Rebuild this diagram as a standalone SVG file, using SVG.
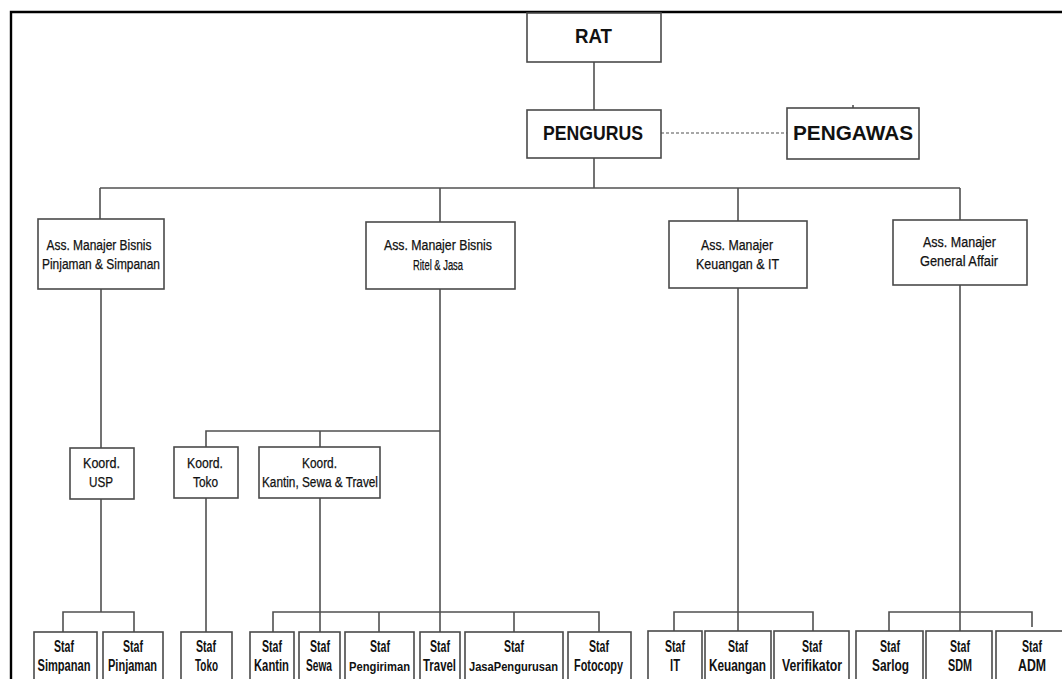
<svg xmlns="http://www.w3.org/2000/svg" width="1062" height="679" viewBox="0 0 1062 679">
<style>
.box{fill:#fff;stroke:#4a4a4a;stroke-width:1.6}
.ln{fill:none;stroke:#505050;stroke-width:1.6}
.dash{fill:none;stroke:#505050;stroke-width:1.2;stroke-dasharray:3 2}
.frame{fill:none;stroke:#000;stroke-width:2.4}
text{font-family:"Liberation Sans",Arial,sans-serif;fill:#111}
.t1{font-size:21px;font-weight:bold}
.t2{font-size:14px;stroke:#111;stroke-width:0.25}
.t3{font-size:16px;font-weight:bold}
.t3s{font-size:13px;font-weight:bold}
</style>
<rect width="1062" height="679" fill="#fff"/>
<path class="frame" d="M11,679 V12 H1062"/>
<g id="connectors">
<line class="ln" x1="594" y1="62" x2="594" y2="110"/>
<line class="dash" x1="661" y1="133" x2="787" y2="133"/>
<line class="ln" x1="853" y1="105" x2="853" y2="108"/>
<line class="ln" x1="594" y1="158" x2="594" y2="188"/>
<line class="ln" x1="100" y1="188" x2="960" y2="188"/>
<line class="ln" x1="100" y1="188" x2="100" y2="219"/>
<line class="ln" x1="440" y1="188" x2="440" y2="222"/>
<line class="ln" x1="738" y1="188" x2="738" y2="221"/>
<line class="ln" x1="960" y1="188" x2="960" y2="220"/>
<line class="ln" x1="101" y1="289" x2="101" y2="448"/>
<line class="ln" x1="101" y1="499" x2="101" y2="612"/>
<path class="ln" d="M63,632 V612 H134 V632"/>
<line class="ln" x1="440" y1="289" x2="440" y2="632"/>
<path class="ln" d="M206,447 V431 H440"/>
<line class="ln" x1="320" y1="431" x2="320" y2="447"/>
<line class="ln" x1="206" y1="498" x2="206" y2="632"/>
<line class="ln" x1="320" y1="498" x2="320" y2="632"/>
<path class="ln" d="M273,632 V612 H599 V632"/>
<line class="ln" x1="379" y1="612" x2="379" y2="632"/>
<line class="ln" x1="514" y1="612" x2="514" y2="632"/>
<line class="ln" x1="738" y1="288" x2="738" y2="631"/>
<path class="ln" d="M674,631 V612 H813 V631"/>
<line class="ln" x1="960" y1="285" x2="960" y2="631"/>
<path class="ln" d="M889,631 V612 H1032 V627"/>
</g>
<g id="rat"><rect class="box" x="527" y="13" width="134" height="49"/><text class="t1" x="575" y="43" textLength="37" lengthAdjust="spacingAndGlyphs">RAT</text></g>
<g id="pengurus"><rect class="box" x="527" y="110" width="134" height="48"/><text class="t1" x="543" y="140" textLength="100" lengthAdjust="spacingAndGlyphs">PENGURUS</text></g>
<g id="pengawas"><rect class="box" x="787" y="108" width="132" height="51"/><text class="t1" x="793" y="140" textLength="120" lengthAdjust="spacingAndGlyphs">PENGAWAS</text></g>
<g id="am-pinjaman"><rect class="box" x="38" y="219" width="126" height="70"/><text class="t2" x="46.5" y="250" textLength="105" lengthAdjust="spacingAndGlyphs">Ass. Manajer Bisnis</text><text class="t2" x="42" y="269" textLength="118" lengthAdjust="spacingAndGlyphs">Pinjaman &amp; Simpanan</text></g>
<g id="am-ritel"><rect class="box" x="366" y="222" width="149" height="67"/><text class="t2" x="384" y="250" textLength="108" lengthAdjust="spacingAndGlyphs">Ass. Manajer  Bisnis</text><text class="t2" x="413" y="270" textLength="50" lengthAdjust="spacingAndGlyphs">Ritel &amp; Jasa</text></g>
<g id="am-keuangan"><rect class="box" x="669" y="221" width="138" height="67"/><text class="t2" x="701" y="250" textLength="72" lengthAdjust="spacingAndGlyphs">Ass. Manajer</text><text class="t2" x="696" y="269" textLength="83" lengthAdjust="spacingAndGlyphs">Keuangan &amp; IT</text></g>
<g id="am-ga"><rect class="box" x="893" y="220" width="134" height="65"/><text class="t2" x="923" y="247" textLength="73" lengthAdjust="spacingAndGlyphs">Ass. Manajer</text><text class="t2" x="920" y="266" textLength="78" lengthAdjust="spacingAndGlyphs">General Affair</text></g>
<g id="koord-usp"><rect class="box" x="70" y="448" width="64" height="51"/><text class="t2" x="83" y="468" textLength="37" lengthAdjust="spacingAndGlyphs">Koord.</text><text class="t2" x="89" y="487" textLength="24" lengthAdjust="spacingAndGlyphs">USP</text></g>
<g id="koord-toko"><rect class="box" x="174" y="447" width="64" height="51"/><text class="t2" x="187" y="468" textLength="36" lengthAdjust="spacingAndGlyphs">Koord.</text><text class="t2" x="193" y="487" textLength="25" lengthAdjust="spacingAndGlyphs">Toko</text></g>
<g id="koord-kantin"><rect class="box" x="259" y="447" width="121" height="51"/><text class="t2" x="302" y="468" textLength="35" lengthAdjust="spacingAndGlyphs">Koord.</text><text class="t2" x="262" y="487" textLength="116" lengthAdjust="spacingAndGlyphs">Kantin, Sewa &amp; Travel</text></g>
<g id="staf-simpanan"><rect class="box" x="34" y="632" width="63" height="60"/><text class="t3" x="54" y="652" textLength="20" lengthAdjust="spacingAndGlyphs">Staf</text><text class="t3" x="37.5" y="671" textLength="53" lengthAdjust="spacingAndGlyphs">Simpanan</text></g>
<g id="staf-pinjaman"><rect class="box" x="103" y="632" width="60" height="60"/><text class="t3" x="123" y="652" textLength="20" lengthAdjust="spacingAndGlyphs">Staf</text><text class="t3" x="108" y="671" textLength="49" lengthAdjust="spacingAndGlyphs">Pinjaman</text></g>
<g id="staf-toko"><rect class="box" x="181" y="632" width="51" height="60"/><text class="t3" x="196" y="652" textLength="20" lengthAdjust="spacingAndGlyphs">Staf</text><text class="t3" x="195" y="671" textLength="23" lengthAdjust="spacingAndGlyphs">Toko</text></g>
<g id="staf-kantin"><rect class="box" x="250" y="632" width="44" height="60"/><text class="t3" x="262" y="652" textLength="20" lengthAdjust="spacingAndGlyphs">Staf</text><text class="t3" x="254" y="671" textLength="35" lengthAdjust="spacingAndGlyphs">Kantin</text></g>
<g id="staf-sewa"><rect class="box" x="299" y="632" width="41" height="60"/><text class="t3" x="310" y="652" textLength="20" lengthAdjust="spacingAndGlyphs">Staf</text><text class="t3" x="306" y="671" textLength="26" lengthAdjust="spacingAndGlyphs">Sewa</text></g>
<g id="staf-pengiriman"><rect class="box" x="345" y="632" width="69" height="60"/><text class="t3" x="370" y="652" textLength="20" lengthAdjust="spacingAndGlyphs">Staf</text><text class="t3s" x="349" y="671" textLength="61" lengthAdjust="spacingAndGlyphs">Pengiriman</text></g>
<g id="staf-travel"><rect class="box" x="420" y="632" width="40" height="60"/><text class="t3" x="430" y="652" textLength="20" lengthAdjust="spacingAndGlyphs">Staf</text><text class="t3" x="423" y="671" textLength="33" lengthAdjust="spacingAndGlyphs">Travel</text></g>
<g id="staf-jasa"><rect class="box" x="465" y="632" width="98" height="60"/><text class="t3" x="504" y="652" textLength="20" lengthAdjust="spacingAndGlyphs">Staf</text><text class="t3s" x="469" y="671" textLength="89" lengthAdjust="spacingAndGlyphs">JasaPengurusan</text></g>
<g id="staf-fotocopy"><rect class="box" x="568" y="632" width="63" height="60"/><text class="t3" x="589" y="652" textLength="20" lengthAdjust="spacingAndGlyphs">Staf</text><text class="t3" x="574" y="671" textLength="49" lengthAdjust="spacingAndGlyphs">Fotocopy</text></g>
<g id="staf-it"><rect class="box" x="648" y="631" width="54" height="60"/><text class="t3" x="665" y="652" textLength="20" lengthAdjust="spacingAndGlyphs">Staf</text><text class="t3" x="670" y="671" textLength="10" lengthAdjust="spacingAndGlyphs">IT</text></g>
<g id="staf-keuangan"><rect class="box" x="705" y="631" width="66" height="60"/><text class="t3" x="728" y="652" textLength="20" lengthAdjust="spacingAndGlyphs">Staf</text><text class="t3" x="709" y="671" textLength="57" lengthAdjust="spacingAndGlyphs">Keuangan</text></g>
<g id="staf-verifikator"><rect class="box" x="774" y="631" width="75" height="60"/><text class="t3" x="802" y="652" textLength="20" lengthAdjust="spacingAndGlyphs">Staf</text><text class="t3" x="782" y="671" textLength="60" lengthAdjust="spacingAndGlyphs">Verifikator</text></g>
<g id="staf-sarlog"><rect class="box" x="856" y="631" width="67" height="60"/><text class="t3" x="880" y="652" textLength="20" lengthAdjust="spacingAndGlyphs">Staf</text><text class="t3" x="872" y="671" textLength="37" lengthAdjust="spacingAndGlyphs">Sarlog</text></g>
<g id="staf-sdm"><rect class="box" x="926" y="631" width="66" height="60"/><text class="t3" x="950" y="652" textLength="20" lengthAdjust="spacingAndGlyphs">Staf</text><text class="t3" x="948" y="671" textLength="24" lengthAdjust="spacingAndGlyphs">SDM</text></g>
<g id="staf-adm"><rect class="box" x="996" y="631" width="80" height="60"/><text class="t3" x="1022" y="652" textLength="20" lengthAdjust="spacingAndGlyphs">Staf</text><text class="t3" x="1018" y="671" textLength="28" lengthAdjust="spacingAndGlyphs">ADM</text></g>
</svg>
